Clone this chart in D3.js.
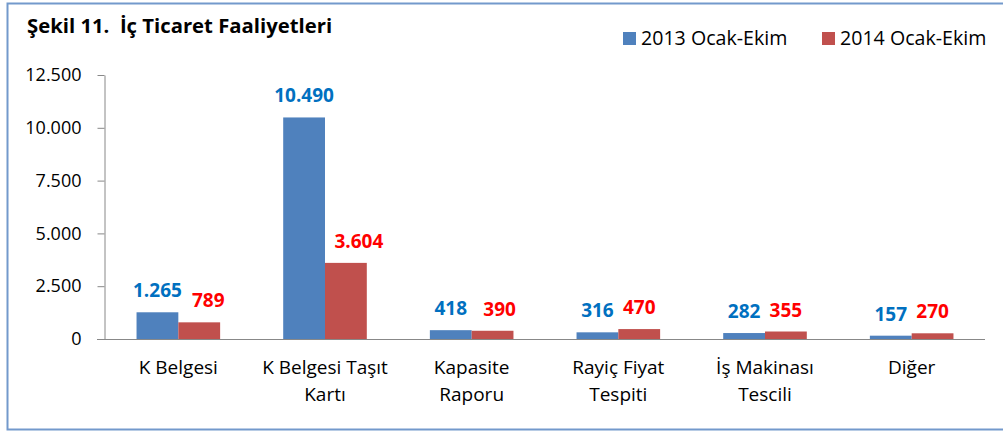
<!DOCTYPE html>
<html>
<head>
<meta charset="utf-8">
<script src="https://cdn.jsdelivr.net/npm/d3@7"></script>
<style>
  body { margin: 0; background: #fff; }
  svg { display: block; font-family: "Open Sans", sans-serif; }
</style>
</head>
<body>
<svg id="chart" width="1003" height="433"></svg>
<script>
// data
const categories = [
  ["K Belgesi"],
  ["K Belgesi Taşıt", "Kartı"],
  ["Kapasite", "Raporu"],
  ["Rayiç Fiyat", "Tespiti"],
  ["İş Makinası", "Tescili"],
  ["Diğer"]
];
const seriesNames = ["2013 Ocak-Ekim", "2014 Ocak-Ekim"];
const values2013 = [1265, 10490, 418, 316, 282, 157];
const values2014 = [789, 3604, 390, 470, 355, 270];
const yTicks = [0, 2500, 5000, 7500, 10000, 12500];

const barColors = ["#4f81bd", "#c0504d"];
const labelColors = ["#0070c0", "#ff0000"];
// hand-moved labels in the original (2014 series)
const labelNudge = [[0, 0, 0, 0, 0, 0], [9, 13, 7, 0, 0, 0]];

const tr = d3.formatLocale({decimal: ",", thousands: ".", grouping: [3], currency: ["", ""]});
const fmt = tr.format(",d");

const svg = d3.select("#chart");

// outer frame
svg.append("rect")
  .attr("x", 7.5).attr("y", 3.5)
  .attr("width", 1000).attr("height", 426)
  .attr("fill", "none")
  .attr("stroke", "#7399cc")
  .attr("stroke-width", 2);

// title
svg.append("text")
  .attr("x", 27).attr("y", 33)
  .attr("font-size", 20.3).attr("font-weight", "bold")
  .attr("fill", "#000")
  .attr("xml:space", "preserve")
  .text("Şekil 11.  İç Ticaret Faaliyetleri");

const idx = d3.range(categories.length);

const x0 = d3.scaleBand()
  .domain(idx)
  .range([105, 985])
  .paddingInner(0.43)
  .paddingOuter(0.215);

const x1 = d3.scaleBand()
  .domain([0, 1])
  .range([0, x0.bandwidth()]);

const y = d3.scaleLinear()
  .domain([0, 12500])
  .range([339, 75]);

// y axis
const yAxis = d3.axisLeft(y)
  .tickValues(yTicks)
  .tickFormat(fmt)
  .tickSize(7)
  .tickSizeOuter(0)
  .tickPadding(16);

const gy = svg.append("g")
  .attr("transform", "translate(104.5,0)")
  .call(yAxis);
gy.select(".domain").attr("stroke", "#888");
gy.selectAll(".tick line").attr("stroke", "#888");
gy.selectAll(".tick text")
  .attr("font-size", 18)
  .attr("fill", "#000")
  .attr("font-family", "Open Sans, sans-serif");

// x axis line
const gx = svg.append("g")
  .attr("transform", "translate(0,339.5)")
  .call(d3.axisBottom(x0).tickSize(0).tickSizeOuter(0).tickFormat(""));
gx.select(".domain").attr("stroke", "#888").attr("d", "M97,0H985");

// x labels
const xl = svg.append("g").selectAll("text")
  .data(idx)
  .join("text")
  .attr("x", i => x0(i) + x0.bandwidth() / 2)
  .attr("y", 374)
  .attr("text-anchor", "middle")
  .attr("font-size", 19)
  .attr("fill", "#000");
xl.selectAll("tspan")
  .data(i => categories[i])
  .join("tspan")
  .attr("x", function() { return this.parentNode.getAttribute("x"); })
  .attr("dy", (d, j) => j === 0 ? 0 : 27)
  .text(d => d);

// bars
const series = [values2013, values2014];
const groups = svg.append("g").selectAll("g")
  .data(series)
  .join("g")
  .attr("fill", (d, s) => barColors[s]);

groups.each(function(vals, s) {
  d3.select(this).selectAll("rect")
    .data(vals)
    .join("rect")
    .attr("x", (v, i) => x0(i) + x1(s))
    .attr("y", v => y(v))
    .attr("width", x1.bandwidth())
    .attr("height", v => y(0) - y(v));

  d3.select(this.parentNode).append("g").selectAll("text")
    .data(vals)
    .join("text")
    .attr("x", (v, i) => x0(i) + x1(s) + x1.bandwidth() / 2 + labelNudge[s][i])
    .attr("y", v => y(v) - 15)
    .attr("text-anchor", "middle")
    .attr("font-size", 19)
    .attr("font-weight", "bold")
    .attr("fill", labelColors[s])
    .text(v => fmt(v));
});

// legend
const legendX = [623, 822];
const lg = svg.append("g").selectAll("g")
  .data(seriesNames)
  .join("g")
  .attr("transform", (d, s) => `translate(${legendX[s]},32)`);
lg.append("rect")
  .attr("width", 13).attr("height", 13)
  .attr("fill", (d, s) => barColors[s]);
lg.append("text")
  .attr("x", 18).attr("y", 13)
  .attr("font-size", 19.6)
  .attr("fill", "#000")
  .text(d => d);
</script>
</body>
</html>
